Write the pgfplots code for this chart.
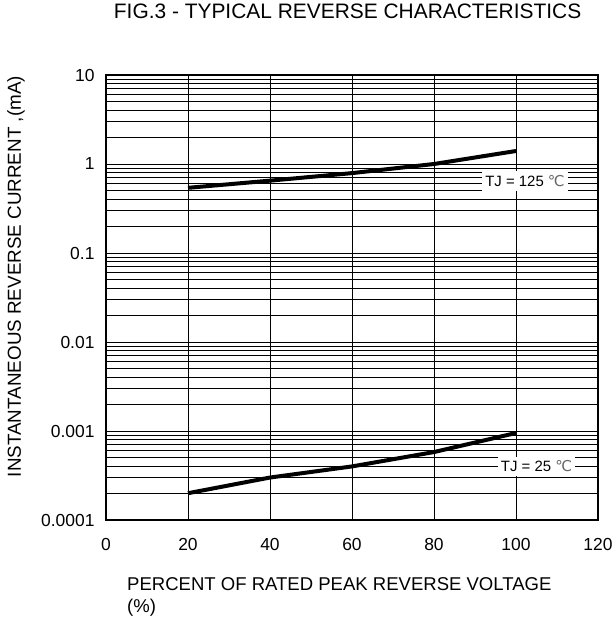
\documentclass[border=0pt]{standalone}
\usepackage{fontspec}
\setmainfont{Liberation Sans}
\newfontfamily\dejavu{DejaVu Sans}
\usepackage{pgfplots}
\pgfplotsset{compat=1.18}

\begin{document}
\begin{tikzpicture}
\begin{axis}[
    name=ax,
    scale only axis,
    width=492bp, height=445bp,
    xmin=0, xmax=120,
    ymode=log, ymin=1e-4, ymax=10,
    xtick={0,20,...,120},
    ytick={1e-4,1e-3,1e-2,1e-1,1,10},
    yticklabels={0.0001,0.001,0.01,0.1,1,10},
    minor ytick={2e-4,3e-4,4e-4,5e-4,6e-4,7e-4,8e-4,9e-4,
                 2e-3,3e-3,4e-3,5e-3,6e-3,7e-3,8e-3,9e-3,
                 2e-2,3e-2,4e-2,5e-2,6e-2,7e-2,8e-2,9e-2,
                 0.2,0.3,0.4,0.5,0.6,0.7,0.8,0.9,
                 2,3,4,5,6,7,8,9},
    xmajorgrids, ymajorgrids, yminorgrids,
    major grid style={black, line width=0.9bp},
    minor grid style={black, line width=0.9bp},
    axis line style={black, line width=1.5bp},
    tick align=inside,
    major tick length=4bp, minor tick length=0pt,
    xtick style={draw=none},
    tick style={black, line width=0.8bp},
    /pgf/number format/assume math mode=true,
    tick label style={font=\fontsize{17.5}{20}\selectfont},
    xticklabel style={yshift=-15bp},
    yticklabel style={xshift=-8bp},
    xlabel={PERCENT OF RATED PEAK REVERSE VOLTAGE\\(\%)},
    xlabel style={at={(axis description cs:0.0427,-0.130)}, anchor=north west,
        align=left, inner sep=0pt, font=\fontsize{18.6}{22}\selectfont},
    ylabel={INSTANTANEOUS REVERSE CURRENT ,(mA)},
    ylabel style={at={(axis description cs:-0.183,0.547)}, anchor=center,
        inner sep=0pt, font=\fontsize{18.9}{22}\selectfont},
    title={FIG.3 - TYPICAL REVERSE CHARACTERISTICS},
    title style={at={(axis description cs:0.491,1.129)}, anchor=center,
        inner sep=0pt, font=\fontsize{21}{24}\selectfont},
    clip=false,
]
% TJ = 125 C
\addplot[black, line width=4bp] coordinates {(20,0.54) (40,0.65) (60,0.79) (80,1.0) (100,1.4)};
% TJ = 25 C
\addplot[black, line width=4bp] coordinates {(20,0.0002) (40,0.0003) (60,0.0004) (80,0.00058) (100,0.00095)};

\node[fill=white, inner xsep=3bp, inner ysep=4bp, font=\fontsize{15}{17}\selectfont]
    at (axis cs:102.2,0.645) {TJ = 125 {\dejavu\color{black!60}℃}};
\node[fill=white, inner xsep=3bp, inner ysep=4bp, font=\fontsize{15}{17}\selectfont]
    at (axis cs:105,0.0004) {TJ = 25 {\dejavu\color{black!60}℃}};
\end{axis}
\pgfresetboundingbox
\useasboundingbox (ax.south west) ++(-106bp,-98bp) rectangle ++(614bp,618bp);
\end{tikzpicture}
\end{document}
